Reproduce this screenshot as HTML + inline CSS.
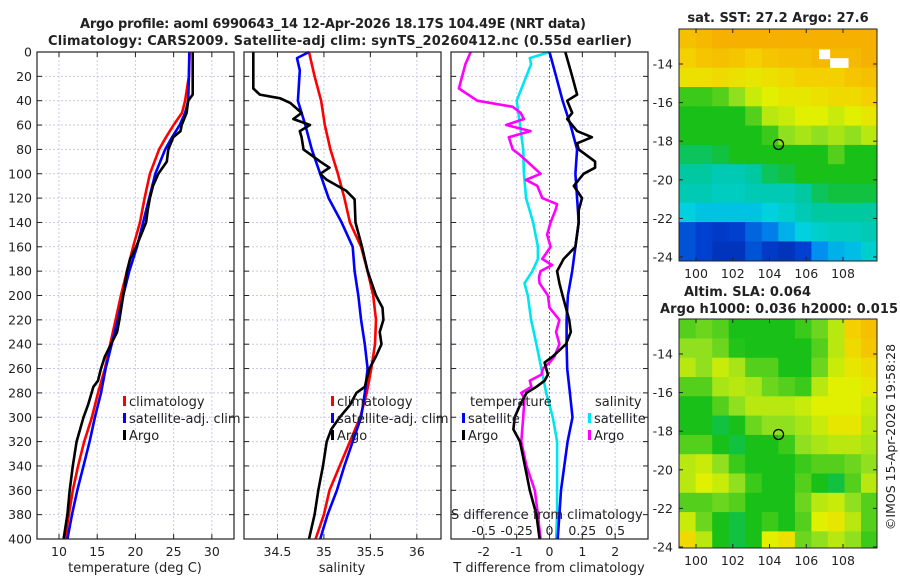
<!DOCTYPE html>
<html><head><meta charset="utf-8"><style>
html,body{margin:0;padding:0;background:#fff;}
svg{display:block;font-family:"DejaVu Sans","Liberation Sans",sans-serif;}
</style></head><body>
<svg id="fig" width="900" height="580" viewBox="0 0 900 580">
<g id="bg"></g>
</svg>
<script>
// ---------- data ----------
const tDepthArgo=[0,20,35,40,50,60,65,70,80,90,100,110,120,130,140,160,170,180,200,220,230,240,250,260,270,275,290,300,320,340,360,380,400];
const tArgo=[27.5,27.5,27.5,26.9,26.7,26.05,25.9,24.96,24.3,24.1,23.0,22.3,21.9,21.6,21.4,20.1,19.3,18.9,18.4,17.9,17.6,16.8,16.0,15.5,15.1,14.5,13.8,13.2,12.3,11.8,11.4,11.1,10.6];
const climDepth=[0,20,40,50,60,70,80,100,120,140,160,180,200,220,240,260,280,300,320,340,360,380,400];
const tClim=[27.1,27.0,26.5,26.1,25.0,24.0,23.1,21.9,21.2,20.6,19.7,18.9,18.1,17.4,16.7,16.0,15.1,14.3,13.3,12.5,11.8,11.3,10.8];
const tSat=[27.05,27.0,26.9,26.5,25.8,24.8,23.9,22.6,21.8,21.0,20.2,19.2,18.4,17.7,16.9,16.1,15.5,14.7,14.0,13.2,12.4,11.7,11.1];
const sClim=[34.84,34.90,34.97,34.99,35.01,35.04,35.07,35.15,35.22,35.28,35.40,35.47,35.53,35.56,35.55,35.51,35.46,35.39,35.28,35.17,35.06,35.0,34.91];
const sSatDepth=[0,5,15,40,60,80,100,120,140,160,180,200,220,240,260,280,300,320,340,360,380,400];
const sSat=[34.84,34.71,34.74,34.72,34.80,34.87,34.96,35.05,35.19,35.31,35.33,35.37,35.40,35.44,35.47,35.44,35.40,35.31,35.22,35.14,35.04,34.96];
const sArgoDepth=[0,30,35,38,42,50,55,60,65,70,80,90,95,100,105,114,121,140,160,170,180,200,210,220,230,240,250,260,275,280,290,300,310,320,340,360,380,400];
const sArgo=[34.24,34.24,34.31,34.53,34.64,34.76,34.67,34.85,34.74,34.76,34.78,34.96,35.06,34.96,35.03,35.24,35.33,35.34,35.41,35.44,35.47,35.56,35.63,35.64,35.60,35.62,35.56,35.49,35.44,35.35,35.28,35.17,35.08,35.03,34.99,34.94,34.90,34.84];
const dtSatDepth=[0,20,40,60,80,100,120,140,160,180,200,220,240,260,280,300,320,340,360,380,400];
const dtSat=[0,0.2,0.4,0.64,0.84,0.79,0.84,0.89,0.79,0.69,0.56,0.52,0.52,0.54,0.62,0.7,0.55,0.45,0.35,0.3,0.25];
const dtArgoDepth=[0,20,35,40,50,55,65,70,75,80,90,95,100,110,120,130,140,160,170,180,190,200,210,220,230,240,250,255,265,270,275,280,290,300,310,320,340,360,380,400];
const dtArgo=[0.48,0.69,0.84,0.54,0.69,0.54,0.84,1.29,0.84,0.89,1.39,1.39,1.04,0.74,0.99,0.89,0.89,0.79,0.43,0.23,0.3,0.4,0.5,0.6,0.65,0.5,0.1,-0.15,-0.05,-0.15,-0.4,-0.7,-0.9,-1.06,-1.1,-0.9,-0.75,-0.6,-0.4,-0.3];
const dsSatDepth=[0,5,10,40,60,80,100,120,140,160,170,180,190,200,220,240,260,280,300,320,340,360,380,400];
const dsSat=[0,-0.15,-0.14,-0.25,-0.225,-0.2,-0.195,-0.178,-0.125,-0.088,-0.088,-0.13,-0.19,-0.165,-0.14,-0.1,-0.062,-0.025,0.025,0.058,0.058,0.058,0.058,0.05];
const dsArgoDepth=[0,10,30,40,45,50,55,60,65,70,80,85,100,105,110,120,125,130,140,150,160,170,175,180,185,190,200,210,220,230,240,250,255,260,265,270,275,280,285,300,320,340,360,380,400];
const dsArgo=[-0.6,-0.64,-0.69,-0.55,-0.28,-0.22,-0.195,-0.33,-0.145,-0.31,-0.28,-0.22,-0.068,-0.18,-0.093,-0.055,0.058,0.045,0.008,-0.018,0.008,-0.055,0.02,-0.068,-0.08,-0.075,-0.012,0,0.075,0.05,0.075,0.038,0,-0.05,-0.062,-0.15,-0.138,-0.215,-0.19,-0.2,-0.215,-0.175,-0.112,-0.088,-0.068];
const depthTicks=[0,20,40,60,80,100,120,140,160,180,200,220,240,260,280,300,320,340,360,380,400];
const tTicks=[10,15,20,25,30];
const sTicks=[34.5,35,35.5,36];
const dTicks=[-2,-1,0,1,2];
const dsTickLabels=["-0.5","-0.25","0","0.25","0.5"];
const dsTicks=[-0.5,-0.25,0,0.25,0.5];
// maps (rows north->south, 1 deg each from -12.19; cols 0.9 deg from 99.08)
const sstGrid=[
[0.9,0.92,0.95,0.95,0.95,0.95,0.95,0.95,0.95,0.95,0.95,0.95],
[0.85,0.88,0.9,0.88,0.85,0.88,0.9,0.9,0.92,0.92,0.92,0.95],
[0.8,0.8,0.82,0.8,0.78,0.8,0.82,0.85,0.85,0.85,0.88,0.9],
[0.58,0.58,0.6,0.65,0.72,0.75,0.78,0.78,0.8,0.82,0.82,0.85],
[0.55,0.55,0.55,0.55,0.6,0.7,0.72,0.75,0.75,0.72,0.75,0.78],
[0.55,0.55,0.55,0.55,0.55,0.58,0.65,0.68,0.65,0.68,0.65,0.7],
[0.5,0.5,0.52,0.55,0.55,0.55,0.55,0.55,0.55,0.6,0.55,0.55],
[0.45,0.45,0.42,0.42,0.45,0.5,0.52,0.55,0.55,0.55,0.55,0.55],
[0.42,0.42,0.4,0.4,0.42,0.42,0.42,0.45,0.5,0.52,0.52,0.52],
[0.35,0.33,0.33,0.33,0.33,0.35,0.38,0.42,0.45,0.45,0.45,0.45],
[0.15,0.12,0.1,0.12,0.18,0.22,0.3,0.35,0.38,0.4,0.4,0.42],
[0.15,0.12,0.08,0.08,0.15,0.1,0.08,0.12,0.25,0.3,0.32,0.38]];
const slaGrid=[
[0.6,0.62,0.6,0.55,0.55,0.55,0.55,0.58,0.62,0.7,0.85,0.9],
[0.65,0.65,0.62,0.56,0.55,0.55,0.55,0.55,0.6,0.7,0.82,0.88],
[0.7,0.65,0.72,0.68,0.6,0.6,0.55,0.55,0.62,0.72,0.78,0.82],
[0.6,0.6,0.68,0.7,0.68,0.62,0.6,0.58,0.7,0.75,0.75,0.78],
[0.55,0.55,0.6,0.65,0.7,0.7,0.7,0.72,0.75,0.75,0.75,0.72],
[0.55,0.55,0.52,0.55,0.62,0.65,0.65,0.68,0.72,0.78,0.78,0.7],
[0.6,0.6,0.55,0.52,0.55,0.55,0.58,0.65,0.68,0.7,0.7,0.68],
[0.7,0.72,0.65,0.58,0.55,0.55,0.55,0.58,0.6,0.6,0.62,0.65],
[0.7,0.75,0.72,0.65,0.58,0.55,0.55,0.6,0.55,0.52,0.6,0.7],
[0.6,0.6,0.62,0.6,0.55,0.55,0.55,0.62,0.7,0.72,0.65,0.6],
[0.72,0.62,0.55,0.52,0.55,0.58,0.55,0.6,0.75,0.78,0.7,0.6],
[0.82,0.7,0.55,0.52,0.55,0.75,0.8,0.62,0.65,0.7,0.65,0.58]];
const lonTicks=[100,102,104,106,108];
const latTicks=[-14,-16,-18,-20,-22,-24];
const argoLon=104.49, argoLat=-18.17;

// ---------- helpers ----------
const NS="http://www.w3.org/2000/svg";
const svg=document.getElementById('fig');
function el(tag,attrs,parent,text){const e=document.createElementNS(NS,tag);for(const k in attrs)e.setAttribute(k,attrs[k]);if(text!==undefined)e.textContent=text;(parent||svg).appendChild(e);return e;}
const Y0=52,Y1=539;
const yD=d=>Y0+(d/400)*(Y1-Y0);
function lin(d0,d1,r0,r1){return v=>r0+(v-d0)/(d1-d0)*(r1-r0);}
const P=[{x0:37,x1:234,xs:lin(7.12,32.9,37,234)},{x0:244,x1:441,xs:lin(34.14,36.26,244,441)},{x0:451,x1:648,xs:lin(-3,3,451,648)}];
const COLS={red:'#ff0000',blue:'#0000ff',black:'#000000',cyan:'#00e5ee',mag:'#ff00ff'};

function frame(p,ticks,labels,name){
  const g=el('g',{},svg);
  
  
  ticks.forEach(v=>{const x=p.xs(v);el('line',{x1:x,x2:x,y1:Y0,y2:Y1,stroke:'#c9c9ea','stroke-width':1,'stroke-dasharray':'2,2'},g);});
  depthTicks.forEach(d=>{const y=yD(d);el('line',{x1:p.x0,x2:p.x1,y1:y,y2:y,stroke:'#c9c9ea','stroke-width':1,'stroke-dasharray':'2,2'},g);
    el('line',{x1:p.x0,x2:p.x0+5,y1:y,y2:y,stroke:'#222'},g);el('line',{x1:p.x1-5,x2:p.x1,y1:y,y2:y,stroke:'#222'},g);});
  ticks.forEach((v,i)=>{const x=p.xs(v);
    el('line',{x1:x,x2:x,y1:Y1,y2:Y1-5,stroke:'#222'},g);el('line',{x1:x,x2:x,y1:Y0,y2:Y0+5,stroke:'#222'},g);
    const t=el('text',{x:x,y:556,'font-size':12.5,'text-anchor':'middle',fill:'#222'},g,labels[i]);
    });
  return g;
}
function line(p,depths,vals,scale,color,name){
  let d='';depths.forEach((z,i)=>{d+=(i?'L':'M')+p.xs(vals[i]*scale).toFixed(1)+','+yD(z).toFixed(1);});
  const e=el('path',{d:d,fill:'none',stroke:color,'stroke-width':2.6,'stroke-linejoin':'round'});
  
  
}
function border(p){const r=el('rect',{x:p.x0,y:Y0,width:p.x1-p.x0,height:Y1-Y0,fill:'none',stroke:'#222','stroke-width':1.2});}
function txt(x,y,s,str,name,extra){const a=Object.assign({x:x,y:y,'font-size':s,fill:'#222'},extra||{});const t=el('text',a,svg,str);return t;}
function legItem(x,y,color,label,name){const g=el('g',{});
  el('rect',{x:x,y:y-10,width:3,height:10,fill:color},g);el('text',{x:x+6,y:y,'font-size':13,fill:'#222'},g,label);}

// ---------- panel 1 temperature ----------
frame(P[0],tTicks,tTicks.map(String),'temperature-axes');
depthTicks.forEach(d=>{const t=txt(32,yD(d)+4.5,12.5,String(d),'depth-tick-label',{'text-anchor':'end'});});
line(P[0],climDepth,tClim,1,COLS.red,'temperature-climatology-line');
line(P[0],climDepth,tSat,1,COLS.blue,'temperature-satellite-clim-line');
line(P[0],tDepthArgo,tArgo,1,COLS.black,'temperature-argo-line');
border(P[0]);
legItem(123,406,COLS.red,'climatology','legend-climatology');
legItem(123,423,COLS.blue,'satellite-adj. clim','legend-satellite-clim');
legItem(123,440,COLS.black,'Argo','legend-argo');
txt(135,572,13,'temperature (deg C)','x-axis-title-temperature',{'text-anchor':'middle'});

// ---------- panel 2 salinity ----------
frame(P[1],sTicks,['34.5','35','35.5','36'],'salinity-axes');
line(P[1],climDepth,sClim,1,COLS.red,'salinity-climatology-line');
line(P[1],sSatDepth,sSat,1,COLS.blue,'salinity-satellite-clim-line');
line(P[1],sArgoDepth,sArgo,1,COLS.black,'salinity-argo-line');
border(P[1]);
legItem(331,406,COLS.red,'climatology','legend-climatology-2');
legItem(331,423,COLS.blue,'satellite-adj. clim','legend-satellite-clim-2');
legItem(331,440,COLS.black,'Argo','legend-argo-2');
txt(342,572,13,'salinity','x-axis-title-salinity',{'text-anchor':'middle'});

// ---------- panel 3 differences ----------
frame(P[2],dTicks,dTicks.map(String),'difference-axes');
(function(){const z=el('line',{x1:P[2].xs(0),x2:P[2].xs(0),y1:Y0,y2:Y1,stroke:'#555533','stroke-width':1,'stroke-dasharray':'1.5,2.5'});})();
line(P[2],dsSatDepth,dsSat,4,COLS.cyan,'salinity-satellite-diff-line');
line(P[2],dsArgoDepth,dsArgo,4,COLS.mag,'salinity-argo-diff-line');
line(P[2],dtSatDepth,dtSat,1,COLS.blue,'temperature-satellite-diff-line');
line(P[2],dtArgoDepth,dtArgo,1,COLS.black,'temperature-argo-diff-line');
border(P[2]);
txt(470,406,13,'temperature','legend-title-temperature');
legItem(462,423,COLS.blue,'satellite','legend-temp-satellite');
legItem(462,440,COLS.black,'Argo','legend-temp-argo');
txt(595,406,13,'salinity','legend-title-salinity');
legItem(588,423,COLS.cyan,'satellite','legend-sal-satellite');
legItem(588,440,COLS.mag,'Argo','legend-sal-argo');
txt(451,519,13,'S difference from climatology','s-axis-title');
dsTicks.forEach((v,i)=>{txt(P[2].xs(v*4),535,12.5,dsTickLabels[i],'s-tick-label',{'text-anchor':'middle'});});
txt(549,572,13,'T difference from climatology','x-axis-title-difference',{'text-anchor':'middle'});

// ---------- titles ----------
txt(333,28,13,'Argo profile: aoml 6990643_14 12-Apr-2026 18.17S 104.49E (NRT data)','title-line-1',{'text-anchor':'middle','font-weight':'bold',textLength:506});
txt(340,45,13,'Climatology: CARS2009. Satellite-adj clim: synTS_20260412.nc (0.55d earlier)','title-line-2',{'text-anchor':'middle','font-weight':'bold',textLength:584});

// ---------- maps ----------
const stops=[[0,[0,28,152]],[0.12,[0,64,208]],[0.25,[0,144,240]],[0.35,[0,208,224]],[0.45,[0,200,160]],[0.55,[24,192,24]],[0.65,[144,224,32]],[0.75,[224,240,0]],[0.85,[245,208,0]],[1,[245,160,0]]];
function cmap(v){for(let i=1;i<stops.length;i++){if(v<=stops[i][0]){const a=stops[i-1],b=stops[i];const f=(v-a[0])/(b[0]-a[0]);return 'rgb('+a[1].map((c,k)=>Math.round(c+(b[1][k]-c)*f)).join(',')+')';}}return 'rgb(245,160,0)';}
const MX0=679,MX1=877;
const lonX=lin(100,108,696,843);
function drawMap(grid,top,bot,latY,name,clipId){
  const g=el('g',{});
  const cp=el('clipPath',{id:clipId},g);el('rect',{x:MX0,y:top,width:MX1-MX0,height:bot-top},cp);
  const cg=el('g',{'clip-path':'url(#'+clipId+')'},g);
  grid.forEach((row,r)=>row.forEach((v,c)=>{
    const x0=lonX(99.08+c*0.9),x1=lonX(99.08+(c+1)*0.9),y0=latY(-12.19-r),y1=latY(-13.19-r);
    const cell=el('rect',{x:x0.toFixed(1),y:y0.toFixed(1),width:(x1-x0+0.6).toFixed(1),height:(y1-y0+0.6).toFixed(1),fill:cmap(v)},cg);
    
    
  }));
  el('rect',{x:MX0,y:top,width:MX1-MX0,height:bot-top,fill:'none',stroke:'#222','stroke-width':1},g);
  lonTicks.forEach(l=>{const x=lonX(l);el('line',{x1:x,x2:x,y1:bot,y2:bot-4,stroke:'#222'},g);el('line',{x1:x,x2:x,y1:top,y2:top+4,stroke:'#222'},g);
    const t=el('text',{x:x,y:bot+17,'font-size':12.5,'text-anchor':'middle',fill:'#222'},g,String(l));});
  latTicks.forEach(l=>{const y=latY(l);el('line',{x1:MX0,x2:MX0+4,y1:y,y2:y,stroke:'#222'},g);el('line',{x1:MX1-4,x2:MX1,y1:y,y2:y,stroke:'#222'},g);
    el('text',{x:673,y:y+4.5,'font-size':12.5,'text-anchor':'end',fill:'#222'},g,String(l));});
  const c=el('circle',{cx:lonX(argoLon),cy:latY(argoLat),r:5,fill:'none',stroke:'#000','stroke-width':1.3},g);
  
  
  return cg;
}
const sstY=lin(-14,-24,64,257);
const sstG=drawMap(sstGrid,29,261,sstY,'sst-map','clipSst');
// missing data patch
[[106.7,-13.25,0.6,0.5],[107.3,-13.7,1.0,0.5]].forEach(m=>{const r=el('rect',{x:lonX(m[0]),y:sstY(m[1]),width:m[2]*18.4,height:m[3]*19.3,fill:'#fff'},sstG);});
const slaY=lin(-14,-24,354,547);
drawMap(slaGrid,319,548,slaY,'sla-map','clipSla');
txt(778,22,13,'sat. SST: 27.2 Argo: 27.6','sst-map-title',{'text-anchor':'middle','font-weight':'bold'});
txt(684,296,13,'Altim. SLA: 0.064','sla-map-title',{'font-weight':'bold'});
txt(660,313,13,'Argo h1000: 0.036 h2000: 0.015','sla-argo-title',{'font-weight':'bold',textLength:238});
txt(0,0,12.5,'©IMOS 15-Apr-2026 19:58:28','timestamp-credit',{transform:'translate(895,437) rotate(-90)','text-anchor':'middle'});
</script>
</body></html>
